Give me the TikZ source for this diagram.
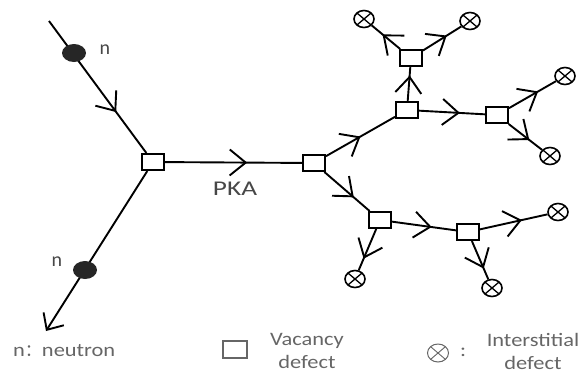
\documentclass[tikz,border=0pt]{standalone}
\usepackage{fontspec}
\setmainfont{Carlito}
\newfontfamily\legfont[FakeStretch=1.18]{Carlito}
\newfontfamily\pkafont[FakeStretch=1.3]{Carlito}
\newfontfamily\cjk{Noto Sans CJK SC}
\usetikzlibrary{arrows.meta,decorations.markings,shapes.geometric}
\definecolor{legc}{HTML}{666666}
\tikzset{
  vac/.style={draw, line width=2pt, fill=white, rectangle, minimum width=22pt, minimum height=16pt, inner sep=0pt},
  inter/.style={draw, line width=1.6pt, fill=white, ellipse, minimum width=20pt, minimum height=17pt, inner sep=0pt,
    path picture={\draw[line width=1.3pt] (path picture bounding box.north west) -- (path picture bounding box.south east)
      (path picture bounding box.north east) -- (path picture bounding box.south west);}},
  neut/.style={fill=black!85, ellipse, minimum width=24pt, minimum height=18pt, inner sep=0pt},
  link/.style={line width=1.9pt},
  chev/.style={postaction={decorate}, decoration={markings, mark=at position #1 with {\arrow[line width=1.9pt]{Straight Barb[length=16pt,width=26pt]}}}},
  lbl/.style={text=black!72, font=\fontsize{20}{24}\selectfont, inner sep=0pt},
  leg/.style={text=legc, font=\legfont\fontsize{19}{23}\selectfont, inner sep=0pt, align=center}
}
\begin{document}
\begin{tikzpicture}[x=1pt,y=-1pt]
\useasboundingbox (0,0) rectangle (583,376);
% vacancy nodes
\node[vac] (A) at (153,162) {};
\node[vac] (B) at (314,163) {};
\node[vac] (C) at (407,110) {};
\node[vac] (D) at (411,58) {};
\node[vac] (E) at (497,115) {};
\node[vac] (F) at (380,220) {};
\node[vac] (G) at (468,232) {};
% interstitials
\node[inter] (I1) at (364,19) {};
\node[inter] (I2) at (470,21) {};
\node[inter] (I3) at (565,76) {};
\node[inter] (I4) at (550,156) {};
\node[inter] (I5) at (355,279) {};
\node[inter] (I6) at (558,212) {};
\node[inter] (I7) at (492,288) {};
% neutron path
\coordinate (S) at (49,21);
\coordinate (T) at (46,331);
\draw[link, chev=0.69] (S) -- (A);
\draw[link, -{Straight Barb[length=13pt,width=24pt]}] (A) -- (T);
\node[neut] (N1) at (74,53) {};
\node[neut] (N2) at (85,270) {};
\node[lbl] (n1) at (105,50) {n};
\node[lbl] (n2) at (57,262) {n};
% cascade
\draw[link, chev=0.6] (A) -- (B);
\node[lbl, font=\pkafont\fontsize{21}{25}\selectfont] (pka) at (235,189) {PKA};
\draw[link, chev=0.5] (B) -- (C);
\draw[link, chev=0.75] (C) -- (D);
\draw[link, chev=0.62] (D) -- (I1);
\draw[link, chev=0.62] (D) -- (I2);
\draw[link, chev=0.62] (C) -- (E);
\draw[link, chev=0.62] (E) -- (I3);
\draw[link, chev=0.62] (E) -- (I4);
\draw[link, chev=0.65] (B) -- (F);
\draw[link, chev=0.72] (F) -- (I5);
\draw[link, chev=0.62] (F) -- (G);
\draw[link, chev=0.62] (G) -- (I6);
\draw[link, chev=0.72] (G) -- (I7);
% redraw nodes on top
\foreach \p in {{153,162},{314,163},{407,110},{411,58},{497,115},{380,220},{468,232}}
  \node[vac] at (\p) {};
% legend
\node[leg, anchor=west] (ln) at (13,351) {n{\cjk\fontsize{17}{20}\selectfont ：}neutron};
\node[vac, draw=legc, minimum width=24pt, minimum height=17pt] (lv) at (235,349) {};
\node[leg] (lvt) at (307,351) {Vacancy\\defect};
\node[inter, draw=legc, line width=1pt, minimum width=21pt, minimum height=18pt,
  path picture={\draw[legc, line width=0.9pt] (path picture bounding box.north west) -- (path picture bounding box.south east)
      (path picture bounding box.north east) -- (path picture bounding box.south west);}] (li) at (438,353) {};
\node[leg] (lc) at (463,352) {:};
\node[leg] (lit) at (533,351) {Interstitial\\defect};
\end{tikzpicture}
\end{document}
